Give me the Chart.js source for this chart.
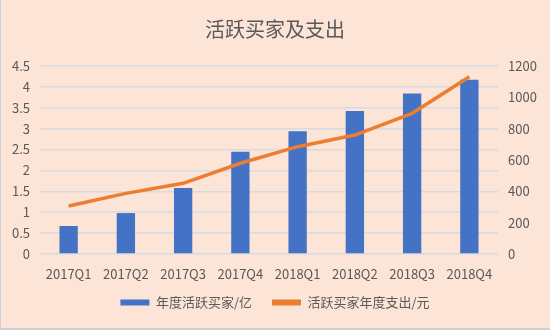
<!DOCTYPE html>
<html>
<head>
<meta charset="utf-8">
<script src="https://cdn.jsdelivr.net/npm/chart.js@4"></script>
<style>
  html, body { margin: 0; padding: 0; background: #fce4d6; }
  #wrap { width: 550px; height: 330px; }
</style>
</head>
<body>
<div id="wrap"><canvas id="myChart" width="550" height="330"></canvas></div>
<script>
const quarters = ["2017Q1", "2017Q2", "2017Q3", "2017Q4", "2018Q1", "2018Q2", "2018Q3", "2018Q4"];
const buyers = [0.67, 0.98, 1.58, 2.45, 2.94, 3.42, 3.84, 4.17];
const spending = [306, 387, 451, 579, 685, 759, 898, 1131];
const leftTicks = [0, 0.5, 1, 1.5, 2, 2.5, 3, 3.5, 4, 4.5];
const rightTicks = [0, 200, 400, 600, 800, 1000, 1200];

const FONT = "'Noto Sans CJK SC', 'Noto Sans', sans-serif";
const TEXT = "#595959";

// peach background with a thin frame on the left and bottom
const backdrop = {
  id: "backdrop",
  beforeDraw(chart) {
    const ctx = chart.ctx;
    ctx.save();
    ctx.fillStyle = "#fce4d6";
    ctx.fillRect(0, 0, chart.width, chart.height);
    ctx.fillStyle = "#c9d3df";
    ctx.fillRect(0, 0, 1, chart.height);
    ctx.fillStyle = "#cfcfcf";
    ctx.fillRect(0, chart.height - 2, chart.width, 2);
    ctx.restore();
  }
};

// pull the legend a little closer to the axis labels
const legendNudge = {
  id: "legendNudge",
  afterLayout(chart) {
    chart.legend.top -= 10;
    chart.legend.bottom -= 10;
  }
};

const plainTick = (v) => String(v);

const ctx = document.getElementById("myChart").getContext("2d");
const chart = new Chart(ctx, {
  type: "bar",
  data: {
    labels: quarters,
    datasets: [
      {
        type: "line",
        label: "活跃买家年度支出/元",
        data: spending,
        yAxisID: "y1",
        borderColor: "#ed7d31",
        backgroundColor: "#ed7d31",
        borderWidth: 3.5,
        pointRadius: 0,
        tension: 0,
        order: 0
      },
      {
        label: "年度活跃买家/亿",
        data: buyers,
        yAxisID: "y",
        backgroundColor: "#4472c4",
        categoryPercentage: 1,
        barPercentage: 0.32,
        order: 1
      }
    ]
  },
  options: {
    responsive: false,
    animation: false,
    layout: { padding: { bottom: 1 } },
    plugins: {
      title: {
        display: true,
        text: "活跃买家及支出",
        color: TEXT,
        font: { family: FONT, size: 20, weight: "normal" },
        padding: { top: 17, bottom: 25 }
      },
      legend: {
        position: "bottom",
        reverse: true,
        labels: {
          color: TEXT,
          font: { family: FONT, size: 13 },
          boxWidth: 29,
          boxHeight: 6,
          padding: 20,
          generateLabels(chart) {
            const items = Chart.defaults.plugins.legend.labels.generateLabels(chart);
            items.forEach((it) => { it.lineWidth = 0; });
            return items;
          }
        }
      },
      tooltip: { enabled: false }
    },
    scales: {
      x: {
        grid: { display: false },
        border: { display: false },
        ticks: { color: TEXT, font: { family: FONT, size: 13 }, padding: 4, maxRotation: 0 },
        afterFit(scale) { scale.height = 32; }
      },
      y: {
        position: "left",
        min: 0,
        max: 4.5,
        afterBuildTicks(scale) { scale.ticks = leftTicks.map((v) => ({ value: v })); },
        grid: { color: "#d6dbe3", lineWidth: 1.5, drawTicks: false },
        border: { display: false },
        ticks: { color: TEXT, font: { family: FONT, size: 13 }, padding: 10, callback: plainTick },
        afterFit(scale) { scale.width = 40; }
      },
      y1: {
        position: "right",
        min: 0,
        max: 1200,
        afterBuildTicks(scale) { scale.ticks = rightTicks.map((v) => ({ value: v })); },
        grid: { display: false, drawTicks: false },
        border: { display: false },
        ticks: { color: TEXT, font: { family: FONT, size: 13 }, padding: 10, callback: plainTick },
        afterFit(scale) { scale.width = 52; }
      }
    }
  },
  plugins: [backdrop, legendNudge]
});
</script>
</body>
</html>
